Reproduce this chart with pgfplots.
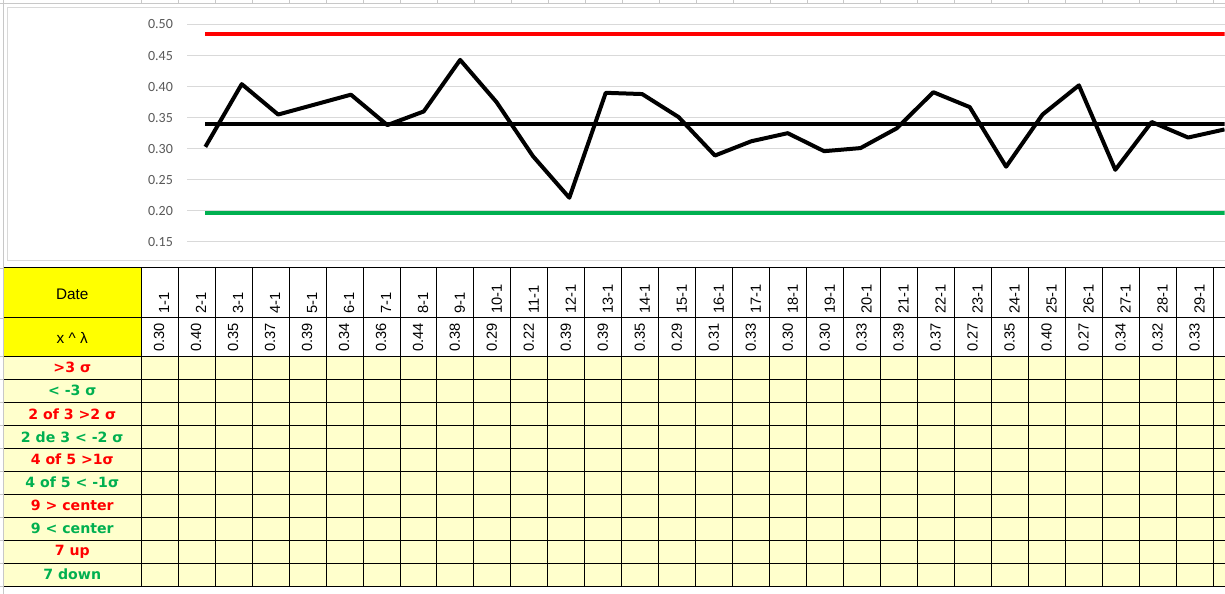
\documentclass[border=0pt]{standalone}
\usepackage{fontspec}
\setmainfont{Liberation Sans}
\newfontfamily\carlito{Carlito}
\newfontfamily\dvs{DejaVu Sans}
\usepackage{pgfplots}
\pgfplotsset{compat=1.18}
\definecolor{xlred}{HTML}{FF0000}
\definecolor{xlgreen}{HTML}{00B050}
\definecolor{xlgrid}{HTML}{D9D9D9}
\definecolor{xlyellow}{HTML}{FFFF00}
\definecolor{xlpale}{HTML}{FFFFCC}
\definecolor{xllabel}{HTML}{595959}
\definecolor{sheetline}{HTML}{C8C8C8}

\begin{document}
\begin{tikzpicture}
% page = 1225 x 594 px, 1px = 0.75pt, y runs downward
\begin{scope}[x=0.75pt,y=-0.75pt]
\useasboundingbox (0,0) rectangle (1225,594);
\fill[white] (0,0) rectangle (1225,594);
% spreadsheet gridlines behind the chart
\draw[sheetline] (0,3.5) -- (1225,3.5);
\foreach \c in {0,...,29} \draw[sheetline] ({141+37*\c},0) -- ({141+37*\c},3.5);
\draw[sheetline] (3.5,0) -- (3.5,594);
% chart frame
\draw[xlgrid] (1225,7.5) -- (7.5,7.5) -- (7.5,260.5) -- (1225,260.5);
\end{scope}

\begin{axis}[
  at={(140.25pt,-181.5pt)}, anchor=south west,
  scale only axis, width=778.5pt, height=163.125pt,
  xmin=0.5, xmax=29, ymin=0.15, ymax=0.5,
  axis line style={draw=none},
  xtick=\empty,
  ytick={0.15,0.20,0.25,0.30,0.35,0.40,0.45,0.50},
  major tick length=0pt,
  ymajorgrids, grid style={xlgrid, line width=0.75pt},
  yticklabel style={font=\carlito\fontsize{10.5}{12}\selectfont, text=xllabel,
    inner sep=0pt, xshift=-10.5pt},
  /pgf/number format/fixed, /pgf/number format/fixed zerofill,
  /pgf/number format/precision=2, /pgf/number format/assume math mode=true,
  clip=true]
\addplot[black, line width=3pt, line join=round] coordinates {
  (1,0.303)(2,0.404)(3,0.355)(4,0.371)(5,0.387)(6,0.338)(7,0.360)(8,0.443)
  (9,0.375)(10,0.288)(11,0.221)(12,0.390)(13,0.388)(14,0.351)(15,0.289)
  (16,0.312)(17,0.325)(18,0.296)(19,0.301)(20,0.333)(21,0.391)(22,0.367)
  (23,0.271)(24,0.355)(25,0.402)(26,0.266)(27,0.343)(28,0.318)(29,0.331)};
\addplot[xlred, line width=3pt] coordinates {(1,0.485)(30,0.485)};
\addplot[black, line width=3pt] coordinates {(1,0.34)(30,0.34)};
\addplot[xlgreen, line width=3pt] coordinates {(1,0.197)(30,0.197)};
\end{axis}

\begin{scope}[x=0.75pt,y=-0.75pt]
% table fills
\fill[xlyellow] (3.5,268) rectangle (141,356.5);
\fill[xlpale] (3.5,356.5) rectangle (1225,586.5);
% row header ticks of the sheet
\foreach \r in {0,...,10} \draw[sheetline] (0,{356.5+23*\r}) -- (3.5,{356.5+23*\r});
\draw[sheetline] (0,268) -- (3.5,268);
\draw[sheetline] (0,318) -- (3.5,318);
% table borders
\foreach \yy in {268,318,356.5,379.5,402.5,425.5,448.5,471.5,494.5,517.5,540.5,563.5,586.5}
  \draw[black, line width=0.75pt] (3.5,\yy) -- (1225,\yy);
\foreach \c in {0,...,29}
  \draw[black, line width=0.75pt] ({141+37*\c},268) -- ({141+37*\c},586.5);
% header labels
\node[font=\fontsize{11.5}{13}\selectfont] at (72,294) {Date};
\node[font=\fontsize{11.5}{13}\selectfont] at (72,338) {x \^{} λ};
% dates and values
\foreach \d/\v [count=\i from 0] in {1-1/0.30,2-1/0.40,3-1/0.35,4-1/0.37,5-1/0.39,
  6-1/0.34,7-1/0.36,8-1/0.44,9-1/0.38,10-1/0.29,11-1/0.22,12-1/0.39,13-1/0.39,
  14-1/0.35,15-1/0.29,16-1/0.31,17-1/0.33,18-1/0.30,19-1/0.30,20-1/0.33,
  21-1/0.39,22-1/0.37,23-1/0.27,24-1/0.35,25-1/0.40,26-1/0.27,27-1/0.34,
  28-1/0.32,29-1/0.33}{
  \node[rotate=90, anchor=base west, inner sep=0pt, font=\fontsize{11}{13}\selectfont]
    at ({141+37*\i+28},314) {\d};
  \node[rotate=90, anchor=base, inner sep=0pt, font=\fontsize{11}{13}\selectfont]
    at ({141+37*\i+23},337.5) {\v};
}
% rule labels
\foreach \t/\col [count=\i from 0] in {{>3 σ}/xlred,{< -3 σ}/xlgreen,
  {2 of 3 >2 σ}/xlred,{2 de 3 < -2 σ}/xlgreen,{4 of 5 >1σ}/xlred,
  {4 of 5 < -1σ}/xlgreen,{9 > center}/xlred,{9 < center}/xlgreen,
  {7 up}/xlred,{7 down}/xlgreen}
  \node[text=\col, font=\dvs\bfseries\fontsize{10.6}{12}\selectfont]
    at (72,{368+23*\i}) {\t};
\end{scope}
\end{tikzpicture}
\end{document}
